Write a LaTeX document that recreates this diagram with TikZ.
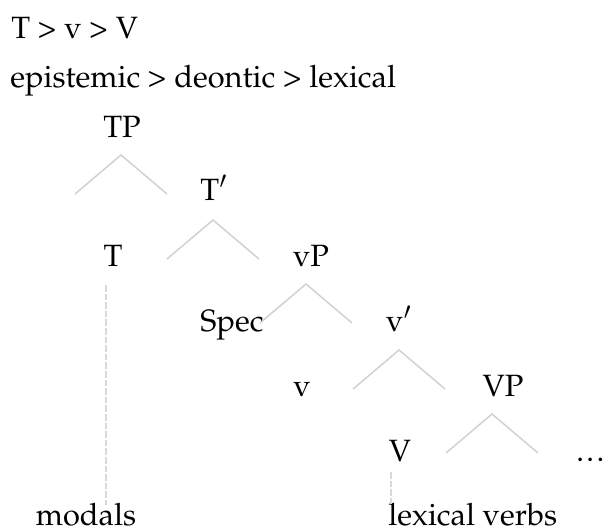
\documentclass[tikz,border=0pt]{standalone}
\usepackage[T1]{fontenc}
\usepackage{mathpazo}
\begin{document}
\begin{tikzpicture}[x=0.5pt,y=-0.5pt,
    every node/.style={inner sep=0pt,font=\fontsize{15.4}{18}\selectfont},
    syn/.style={anchor=base},
    branch/.style={draw=black!18,line width=0.75pt},
    lead/.style={draw=black!15,line width=0.8pt,dash pattern=on 3.3pt off 1pt}]
    \useasboundingbox (0,0) rectangle (604,531);

    \node(order)[anchor=base west] at (11,38) {T \textgreater{} v \textgreater{} V};
    \node(scale)[anchor=base west] at (10,87) {epistemic \textgreater{} deontic \textgreater{} lexical};

    \node(tp)[syn] at (122,137) {TP};
    \node(tbar)[syn] at (214,200) {T$'$};
    \node(t)[syn] at (113,266) {T};
    \node(vp)[syn] at (311,266) {vP};
    \node(spec)[syn] at (232,331) {Spec};
    \node(vbar)[syn] at (399,331) {v$'$};
    \node(v)[syn] at (302,396) {v};
    \node(bigvp)[syn] at (503,396) {VP};
    \node(bigv)[syn] at (400,461) {V};
    \node(dots)[anchor=base west] at (576,461) {.\kern1.2pt.\kern1.2pt.};
    \node(modals)[syn] at (86,525) {modals};
    \node(lexverbs)[anchor=base west] at (388,525) {lexical verbs};

    \foreach \n/\dx/\dy in {tp/-1/18, tbar/-1/20, vp/-5/18, vbar/0/19, bigvp/-11/18}
      \draw[branch] ([shift={(\dx,\dy)}]\n.base) coordinate (\n-fork)
        +(-46,39) -- (\n-fork) -- +(46,39);

    \draw[lead] ([shift={(-7,19)}]t.base) -- ([shift={(-7,3)}]t.base |- modals.north);
    \draw[lead] ([shift={(-9,11)}]bigv.base) -- ([shift={(-9,3)}]bigv.base |- lexverbs.north);
    % \draw[lead] (spec) -- (v);
\end{tikzpicture}
\end{document}
